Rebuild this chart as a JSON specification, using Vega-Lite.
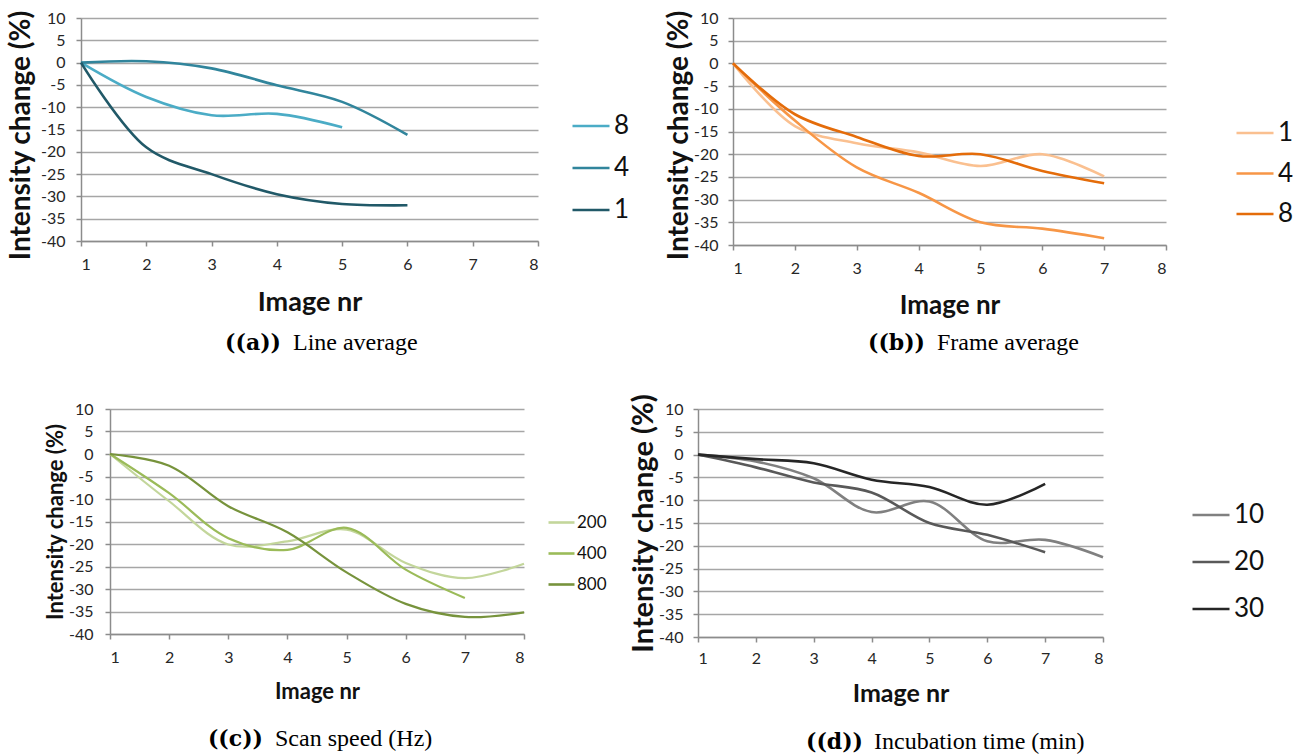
{
  "$schema": "https://vega.github.io/schema/vega-lite/v6.json",
  "padding": {"left": 7, "top": 9, "right": 0, "bottom": 0},
  "background": "white",
  "config": {
    "view": {"stroke": null},
    "font": "Lato",
    "axis": {
      "labelFont": "Lato", "labelColor": "#262626", "titleFont": "Lato", "titleFontWeight": "bold", "titleColor": "#111111",
      "domainColor": "#8c8c8c", "domainWidth": 1.5, "tickColor": "#8c8c8c", "tickWidth": 1.5, "tickSize": 5,
      "gridColor": "#a6a6a6", "gridWidth": 1.3, "labelOverlap": false, "labelBound": false, "labelExpr": "'' + datum.value"
    },
    "legend": {"labelFont": "Lato", "labelColor": "#111111", "padding": 0, "symbolType": "stroke", "symbolStrokeWidth": 3, "labelOffset": 3},
    "line": {"strokeWidth": 2.6, "interpolate": "catmull-rom"}
  },
  "datasets": {
    "a": [
      {"series": "8", "image": 1, "change": 0}, {"series": "8", "image": 2, "change": -7.7}, {"series": "8", "image": 3, "change": -11.8}, {"series": "8", "image": 4, "change": -11.5}, {"series": "8", "image": 5, "change": -14.5},
      {"series": "4", "image": 1, "change": 0}, {"series": "4", "image": 2, "change": 0.3}, {"series": "4", "image": 3, "change": -1.3}, {"series": "4", "image": 4, "change": -5.1}, {"series": "4", "image": 5, "change": -8.8}, {"series": "4", "image": 6, "change": -16.2},
      {"series": "1", "image": 1, "change": 0}, {"series": "1", "image": 2, "change": -19}, {"series": "1", "image": 3, "change": -25}, {"series": "1", "image": 4, "change": -29.5}, {"series": "1", "image": 5, "change": -31.7}, {"series": "1", "image": 6, "change": -32}
    ],
    "b": [
      {"series": "1", "image": 1, "change": 0}, {"series": "1", "image": 2, "change": -13.8}, {"series": "1", "image": 3, "change": -17.6}, {"series": "1", "image": 4, "change": -19.6}, {"series": "1", "image": 5, "change": -22.6}, {"series": "1", "image": 6, "change": -20}, {"series": "1", "image": 7, "change": -24.9},
      {"series": "4", "image": 1, "change": 0}, {"series": "4", "image": 2, "change": -12.6}, {"series": "4", "image": 3, "change": -22.9}, {"series": "4", "image": 4, "change": -28.5}, {"series": "4", "image": 5, "change": -35}, {"series": "4", "image": 6, "change": -36.4}, {"series": "4", "image": 7, "change": -38.5},
      {"series": "8", "image": 1, "change": 0}, {"series": "8", "image": 2, "change": -11.2}, {"series": "8", "image": 3, "change": -16.2}, {"series": "8", "image": 4, "change": -20.4}, {"series": "8", "image": 5, "change": -20}, {"series": "8", "image": 6, "change": -23.7}, {"series": "8", "image": 7, "change": -26.4}
    ],
    "c": [
      {"series": "200", "image": 1, "change": 0}, {"series": "200", "image": 2, "change": -10.5}, {"series": "200", "image": 3, "change": -20.1}, {"series": "200", "image": 4, "change": -19.4}, {"series": "200", "image": 5, "change": -16.8}, {"series": "200", "image": 6, "change": -24.2}, {"series": "200", "image": 7, "change": -27.6}, {"series": "200", "image": 8, "change": -24.4},
      {"series": "400", "image": 1, "change": 0}, {"series": "400", "image": 2, "change": -8.7}, {"series": "400", "image": 3, "change": -18.7}, {"series": "400", "image": 4, "change": -21.3}, {"series": "400", "image": 5, "change": -16.4}, {"series": "400", "image": 6, "change": -25.7}, {"series": "400", "image": 7, "change": -32},
      {"series": "800", "image": 1, "change": 0}, {"series": "800", "image": 2, "change": -2.6}, {"series": "800", "image": 3, "change": -11.6}, {"series": "800", "image": 4, "change": -17.4}, {"series": "800", "image": 5, "change": -26.3}, {"series": "800", "image": 6, "change": -33.3}, {"series": "800", "image": 7, "change": -36.2}, {"series": "800", "image": 8, "change": -35.2}
    ],
    "d": [
      {"series": "10", "image": 1, "change": 0}, {"series": "10", "image": 2, "change": -1.5}, {"series": "10", "image": 3, "change": -5.2}, {"series": "10", "image": 4, "change": -12.6}, {"series": "10", "image": 5, "change": -10.3}, {"series": "10", "image": 6, "change": -19}, {"series": "10", "image": 7, "change": -18.7}, {"series": "10", "image": 8, "change": -22.5},
      {"series": "20", "image": 1, "change": 0}, {"series": "20", "image": 2, "change": -2.8}, {"series": "20", "image": 3, "change": -6.1}, {"series": "20", "image": 4, "change": -8.3}, {"series": "20", "image": 5, "change": -15}, {"series": "20", "image": 6, "change": -17.6}, {"series": "20", "image": 7, "change": -21.4},
      {"series": "30", "image": 1, "change": 0}, {"series": "30", "image": 2, "change": -1}, {"series": "30", "image": 3, "change": -1.9}, {"series": "30", "image": 4, "change": -5.5}, {"series": "30", "image": 5, "change": -7.1}, {"series": "30", "image": 6, "change": -11}, {"series": "30", "image": 7, "change": -6.4}
    ]
  },
  "resolve": {"scale": {"color": "independent", "x": "independent", "y": "independent"}, "legend": {"color": "independent"}, "axis": {"x": "independent", "y": "independent"}},
  "vconcat": [
    {
      "resolve": {"scale": {"color": "independent", "x": "independent", "y": "independent"}, "legend": {"color": "independent"}, "axis": {"x": "independent", "y": "independent"}},
      "hconcat": [
        {
          "width": 457, "height": 223,
          "resolve": {"scale": {"x": "independent", "y": "independent"}, "axis": {"x": "independent", "y": "independent"}},
          "layer": [
            {
              "data": {"name": "a"},
              "mark": {"type": "line"},
              "encoding": {
                "x": {"field": "image", "type": "quantitative", "scale": {"domain": [1, 8], "nice": false},
                  "axis": {"title": "Image nr", "values": [1,2,3,4,5,6,7,8], "grid": false, "labelFontSize": 16, "titleFontSize": 27, "labelPadding": 10, "titlePadding": 17}},
                "y": {"field": "change", "type": "quantitative", "scale": {"domain": [-40, 10], "nice": false},
                  "axis": {"title": "Intensity change (%)", "values": [-40,-35,-30,-25,-20,-15,-10,-5,0,5,10], "labelFontSize": 16, "titleFontSize": 28, "titleY": 117, "labelPadding": 11, "titlePadding": 5}},
                "color": {"field": "series", "type": "nominal", "scale": {"domain": ["8", "4", "1"], "range": ["#4bacc6", "#31859c", "#215968"]},
                  "legend": {"title": null, "orient": "none", "legendX": 490, "legendY": 88, "symbolSize": 1369, "labelFontSize": 26, "rowPadding": 9}}
              }
            },
            {
              "data": {"values": [{}]},
              "mark": {"type": "text", "text": "((a))", "font": "DejaVu Serif", "fontWeight": "bold", "fontSize": 22, "align": "right", "baseline": "middle", "color": "#000000"},
              "encoding": {"x": {"datum": 4.063, "type": "quantitative", "scale": {"domain": [1, 8], "nice": false}, "axis": null}, "y": {"datum": -62.9, "type": "quantitative", "scale": {"domain": [-40, 10], "nice": false}, "axis": null}}
            },
            {
              "data": {"values": [{}]},
              "mark": {"type": "text", "text": "Line average", "font": "Liberation Serif", "fontSize": 24, "align": "left", "baseline": "middle", "color": "#000000"},
              "encoding": {"x": {"datum": 4.247, "type": "quantitative", "scale": {"domain": [1, 8], "nice": false}, "axis": null}, "y": {"datum": -62.9, "type": "quantitative", "scale": {"domain": [-40, 10], "nice": false}, "axis": null}}
            }
          ]
        },
        {
          "width": 433, "height": 227,
          "resolve": {"scale": {"x": "independent", "y": "independent"}, "axis": {"x": "independent", "y": "independent"}},
          "layer": [
            {
              "data": {"name": "b"},
              "mark": {"type": "line"},
              "encoding": {
                "x": {"field": "image", "type": "quantitative", "scale": {"domain": [1, 8], "nice": false},
                  "axis": {"title": "Image nr", "values": [1,2,3,4,5,6,7,8], "grid": false, "labelFontSize": 16, "titleFontSize": 26, "labelPadding": 10, "titlePadding": 16}},
                "y": {"field": "change", "type": "quantitative", "scale": {"domain": [-40, 10], "nice": false},
                  "axis": {"title": "Intensity change (%)", "values": [-40,-35,-30,-25,-20,-15,-10,-5,0,5,10], "labelFontSize": 16, "titleFontSize": 28, "titleY": 117, "labelPadding": 10, "titlePadding": 0}},
                "color": {"field": "series", "type": "nominal", "scale": {"domain": ["1", "4", "8"], "range": ["#fac090", "#f79646", "#e46c0a"]},
                  "legend": {"title": null, "orient": "none", "legendX": 502, "legendY": 95, "symbolSize": 1369, "labelFontSize": 26, "rowPadding": 7.5}}
              }
            },
            {
              "data": {"values": [{}]},
              "mark": {"type": "text", "text": "((b))", "font": "DejaVu Serif", "fontWeight": "bold", "fontSize": 22, "align": "right", "baseline": "middle", "color": "#000000"},
              "encoding": {"x": {"datum": 4.104, "type": "quantitative", "scale": {"domain": [1, 8], "nice": false}, "axis": null}, "y": {"datum": -61.6, "type": "quantitative", "scale": {"domain": [-40, 10], "nice": false}, "axis": null}}
            },
            {
              "data": {"values": [{}]},
              "mark": {"type": "text", "text": "Frame average", "font": "Liberation Serif", "fontSize": 24, "align": "left", "baseline": "middle", "color": "#000000"},
              "encoding": {"x": {"datum": 4.298, "type": "quantitative", "scale": {"domain": [1, 8], "nice": false}, "axis": null}, "y": {"datum": -61.6, "type": "quantitative", "scale": {"domain": [-40, 10], "nice": false}, "axis": null}}
            }
          ]
        }
      ],
      "spacing": 35
    },
    {
      "resolve": {"scale": {"color": "independent", "x": "independent", "y": "independent"}, "legend": {"color": "independent"}, "axis": {"x": "independent", "y": "independent"}},
      "hconcat": [
        {
          "width": 414, "height": 225,
          "resolve": {"scale": {"x": "independent", "y": "independent"}, "axis": {"x": "independent", "y": "independent"}},
          "layer": [
            {
              "data": {"name": "c"},
              "mark": {"type": "line", "strokeWidth": 2.2},
              "encoding": {
                "x": {"field": "image", "type": "quantitative", "scale": {"domain": [1, 8], "nice": false},
                  "axis": {"title": "Image nr", "values": [1,2,3,4,5,6,7,8], "grid": false, "labelFontSize": 16, "titleFontSize": 22, "labelPadding": 10, "titlePadding": 16}},
                "y": {"field": "change", "type": "quantitative", "scale": {"domain": [-40, 10], "nice": false},
                  "axis": {"title": "Intensity change (%)", "values": [-40,-35,-30,-25,-20,-15,-10,-5,0,5,10], "labelFontSize": 16, "titleFontSize": 22, "labelPadding": 12, "titlePadding": 1}},
                "color": {"field": "series", "type": "nominal", "scale": {"domain": ["200", "400", "800"], "range": ["#c3d69b", "#9bbb59", "#77933c"]},
                  "legend": {"title": null, "orient": "none", "legendX": 437, "legendY": 99, "symbolSize": 676, "labelFontSize": 17, "rowPadding": 8, "labelOffset": 1}}
              }
            },
            {
              "data": {"values": [{}]},
              "mark": {"type": "text", "text": "((c))", "font": "DejaVu Serif", "fontWeight": "bold", "fontSize": 22, "align": "right", "baseline": "middle", "color": "#000000"},
              "encoding": {"x": {"datum": 3.587, "type": "quantitative", "scale": {"domain": [1, 8], "nice": false}, "axis": null}, "y": {"datum": -63.3, "type": "quantitative", "scale": {"domain": [-40, 10], "nice": false}, "axis": null}}
            },
            {
              "data": {"values": [{}]},
              "mark": {"type": "text", "text": "Scan speed (Hz)", "font": "Liberation Serif", "fontSize": 24, "align": "left", "baseline": "middle", "color": "#000000"},
              "encoding": {"x": {"datum": 3.79, "type": "quantitative", "scale": {"domain": [1, 8], "nice": false}, "axis": null}, "y": {"datum": -63.3, "type": "quantitative", "scale": {"domain": [-40, 10], "nice": false}, "axis": null}}
            }
          ]
        },
        {
          "width": 405, "height": 228,
          "resolve": {"scale": {"x": "independent", "y": "independent"}, "axis": {"x": "independent", "y": "independent"}},
          "layer": [
            {
              "data": {"name": "d"},
              "mark": {"type": "line"},
              "encoding": {
                "x": {"field": "image", "type": "quantitative", "scale": {"domain": [1, 8], "nice": false},
                  "axis": {"title": "Image nr", "values": [1,2,3,4,5,6,7,8], "grid": false, "labelFontSize": 16, "titleFontSize": 25, "labelPadding": 8, "titlePadding": 15}},
                "y": {"field": "change", "type": "quantitative", "scale": {"domain": [-40, 10], "nice": false},
                  "axis": {"title": "Intensity change (%)", "values": [-40,-35,-30,-25,-20,-15,-10,-5,0,5,10], "labelFontSize": 16, "titleFontSize": 29, "labelPadding": 10, "titlePadding": 0}},
                "color": {"field": "series", "type": "nominal", "scale": {"domain": ["10", "20", "30"], "range": ["#808080", "#595959", "#262626"]},
                  "legend": {"title": null, "orient": "none", "legendX": 493, "legendY": 86, "symbolSize": 1369, "labelFontSize": 26, "rowPadding": 14}}
              }
            },
            {
              "data": {"values": [{}]},
              "mark": {"type": "text", "text": "((d))", "font": "DejaVu Serif", "fontWeight": "bold", "fontSize": 22, "align": "right", "baseline": "middle", "color": "#000000"},
              "encoding": {"x": {"datum": 3.852, "type": "quantitative", "scale": {"domain": [1, 8], "nice": false}, "axis": null}, "y": {"datum": -63.0, "type": "quantitative", "scale": {"domain": [-40, 10], "nice": false}, "axis": null}}
            },
            {
              "data": {"values": [{}]},
              "mark": {"type": "text", "text": "Incubation time (min)", "font": "Liberation Serif", "fontSize": 24, "align": "left", "baseline": "middle", "color": "#000000"},
              "encoding": {"x": {"datum": 4.042, "type": "quantitative", "scale": {"domain": [1, 8], "nice": false}, "axis": null}, "y": {"datum": -63.0, "type": "quantitative", "scale": {"domain": [-40, 10], "nice": false}, "axis": null}}
            }
          ]
        }
      ],
      "spacing": 22
    }
  ],
  "spacing": 37,
  "center": true
}
